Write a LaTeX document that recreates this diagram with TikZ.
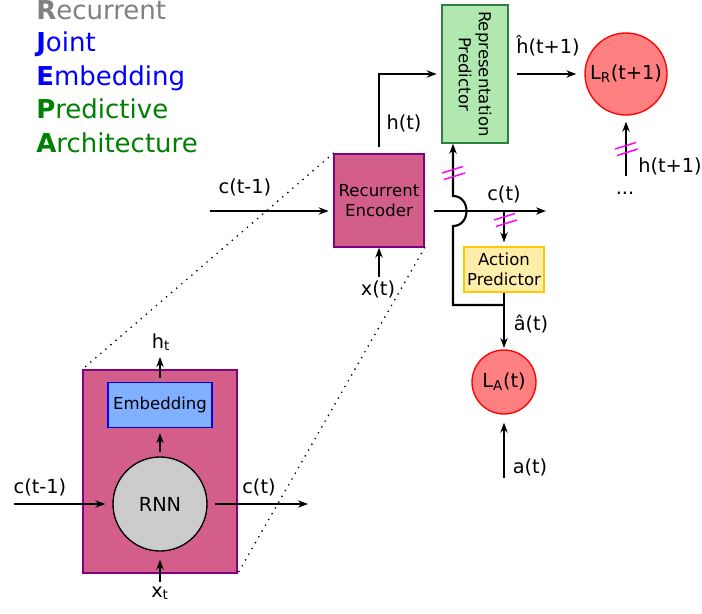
\documentclass[tikz,border=0pt]{standalone}
\usepackage{fontspec}
\setmainfont{DejaVu Sans}
\usetikzlibrary{arrows.meta}
\definecolor{encfill}{RGB}{212,94,138}
\definecolor{encdraw}{RGB}{128,0,128}
\definecolor{rpfill}{RGB}{176,232,176}
\definecolor{rpdraw}{RGB}{46,128,70}
\definecolor{apfill}{RGB}{255,238,170}
\definecolor{apdraw}{RGB}{255,200,0}
\definecolor{embfill}{RGB}{128,176,255}
\definecolor{embdraw}{RGB}{0,0,255}
\definecolor{lossfill}{RGB}{255,128,128}
\definecolor{lossdraw}{RGB}{255,0,0}
\definecolor{rnnfill}{RGB}{204,204,204}
\definecolor{titlegray}{RGB}{128,128,128}
\definecolor{titleblue}{RGB}{0,0,255}
\definecolor{titlegreen}{RGB}{0,128,0}
\definecolor{sgcol}{RGB}{255,0,255}
\newcommand{\sgmark}[1]{\draw[sg,shift={#1}] (-11,0) -- (10,-6.5) (-9,6.5) -- (12,0);}
\begin{document}
\begin{tikzpicture}[x=0.75pt,y=-0.75pt,
  arr/.style={line width=1.6pt,-{Stealth[length=7.5pt,width=5.5pt]}},
  sg/.style={draw=sgcol,line width=1.1pt},
  boxtxt/.style={font=\fontsize{12.4}{15}\selectfont,align=center},
  lbl/.style={font=\fontsize{14.5}{17}\selectfont,inner sep=0pt},
  ttl/.style={font=\fontsize{19.5}{23}\selectfont,inner sep=0pt,anchor=base west},
  encbox/.style={draw=encdraw,fill=encfill,line width=1pt,inner sep=0pt},
  dots/.style={line width=1.4pt,dash pattern=on 0pt off 5pt,line cap=round}
]
\useasboundingbox (0,0) rectangle (702,613);

% title
\node[ttl,text=titlegray] (t1) at (36,20) {\textbf{R}ecurrent};
\node[ttl,text=titleblue] (t2) at (36,52) {\textbf{J}oint};
\node[ttl,text=titleblue] (t3) at (36,86) {\textbf{E}mbedding};
\node[ttl,text=titlegreen] (t4) at (36,119) {\textbf{P}redictive};
\node[ttl,text=titlegreen] (t5) at (36,152) {\textbf{A}rchitecture};

% top nodes
\node[encbox,boxtxt,minimum width=67.5pt,minimum height=69.75pt] (enc) at (379,200.5) {Recurrent\\Encoder};
\node[draw=rpdraw,fill=rpfill,line width=1pt,minimum width=49.5pt,minimum height=103.5pt,inner sep=0pt] (rp) at (475,74) {};
\node[boxtxt,rotate=-90] (rptxt) at (rp.center) {Representation\\Predictor};
\node[draw=apdraw,fill=apfill,line width=1pt,boxtxt,minimum width=60pt,minimum height=33.75pt,inner sep=0pt] (ap) at (504,269.5) {Action\\Predictor};
\node[circle,draw=lossdraw,fill=lossfill,line width=1pt,minimum size=61.5pt,inner sep=0pt,font=\fontsize{14.5}{17}\selectfont] (LR) at (626,74) {L\textsubscript{R}(t+1)};
\node[circle,draw=lossdraw,fill=lossfill,line width=1pt,minimum size=48pt,inner sep=0pt,font=\fontsize{14.5}{17}\selectfont] (LA) at (504,382) {L\textsubscript{A}(t)};

% bottom nodes
\node[encbox,minimum width=115.5pt,minimum height=152.25pt] (big) at (160,471.5) {};
\node[draw=embdraw,fill=embfill,line width=1pt,boxtxt,minimum width=78pt,minimum height=33.75pt,inner sep=0pt] (emb) at (160,405) {Embedding};
\node[circle,draw=black,fill=rnnfill,line width=1pt,minimum size=70.5pt,inner sep=0pt,font=\fontsize{14.5}{17}\selectfont] (rnn) at (160,504) {RNN};

% coordinates
\coordinate (cin) at (210,211);
\coordinate (xin) at (379,277);
\coordinate (cout) at (546,211);
\coordinate (hin) at (626,176);
\coordinate (ain) at (504,478);
\coordinate (fb) at (453,305);
\coordinate (hopb) at (453,226);
\coordinate (hopt) at (453,196);
\coordinate (bcin) at (14,504);
\coordinate (bcout) at (308,504);
\coordinate (htout) at (160,357);
\coordinate (xtin) at (160,582);

% top connectors
\draw[arr,shorten <=4.5pt,shorten >=3.5pt] (enc.north) |- (rp.west);
\draw[arr,shorten <=6pt,shorten >=6pt] (rp.east) -- (LR.west);
\draw[arr,shorten >=4.5pt] (hin) -- (LR.south);
\draw[arr,shorten >=3.5pt] (cin) -- (cin -| enc.west);
\draw[arr] (xin) -- (xin |- enc.south);
\draw[arr,shorten <=6.75pt] (cin -| enc.east) -- (cout);
\draw[arr,shorten >=3pt] (cout -| ap.north) -- (ap.north);
\draw[arr,shorten >=1pt] (ap.south) -- (LA.north);
\draw[arr] (fb -| ap.south) -- (fb) -- (hopb) .. controls (471,226) and (471,196) .. (hopt) -- (fb |- rp.south);
\draw[arr,shorten >=6pt] (ain) -- (LA.south);

% stop-gradient marks
\sgmark{(453,173)}
\sgmark{(505,220)}
\sgmark{(626,149)}

% bottom connectors
\draw[arr,shorten >=5.25pt] (bcin) -- (rnn.west);
\draw[arr,shorten <=5.25pt] (rnn.east) -- (bcout);
\draw[arr,shorten <=3pt,shorten >=3.75pt] (rnn.north) -- (emb.south);
\draw[arr,shorten <=3pt] (emb.north) -- (htout);
\draw[arr,shorten >=6pt] (xtin) -- (rnn.south);

% zoom lines
\draw[dots] (enc.north west) -- (big.north west);
\draw[dots] (enc.south east) -- (big.south east);

% labels
\node[lbl,anchor=base] (lht) at (404,130) {h(t)};
\node[lbl,anchor=base] (lhh) at (548,54) {ĥ(t+1)};
\node[lbl,anchor=base] (lhn) at (670,172) {h(t+1)};
\node[lbl,anchor=base] (ldots) at (625,194) {...};
\node[lbl,anchor=base] (lct) at (504,200) {c(t)};
\node[lbl,anchor=base] (lcp) at (245,193) {c(t-1)};
\node[lbl,anchor=base] (lxt) at (378,295) {x(t)};
\node[lbl,anchor=base] (lah) at (531,330) {â(t)};
\node[lbl,anchor=base] (la) at (530,473) {a(t)};
\node[lbl,anchor=base] (lbht) at (161,348) {h\textsubscript{t}};
\node[lbl,anchor=base] (lbcp) at (40,493) {c(t-1)};
\node[lbl,anchor=base] (lbct) at (259,493) {c(t)};
\node[lbl,anchor=base] (lbxt) at (160,597) {x\textsubscript{t}};
\end{tikzpicture}
\end{document}
